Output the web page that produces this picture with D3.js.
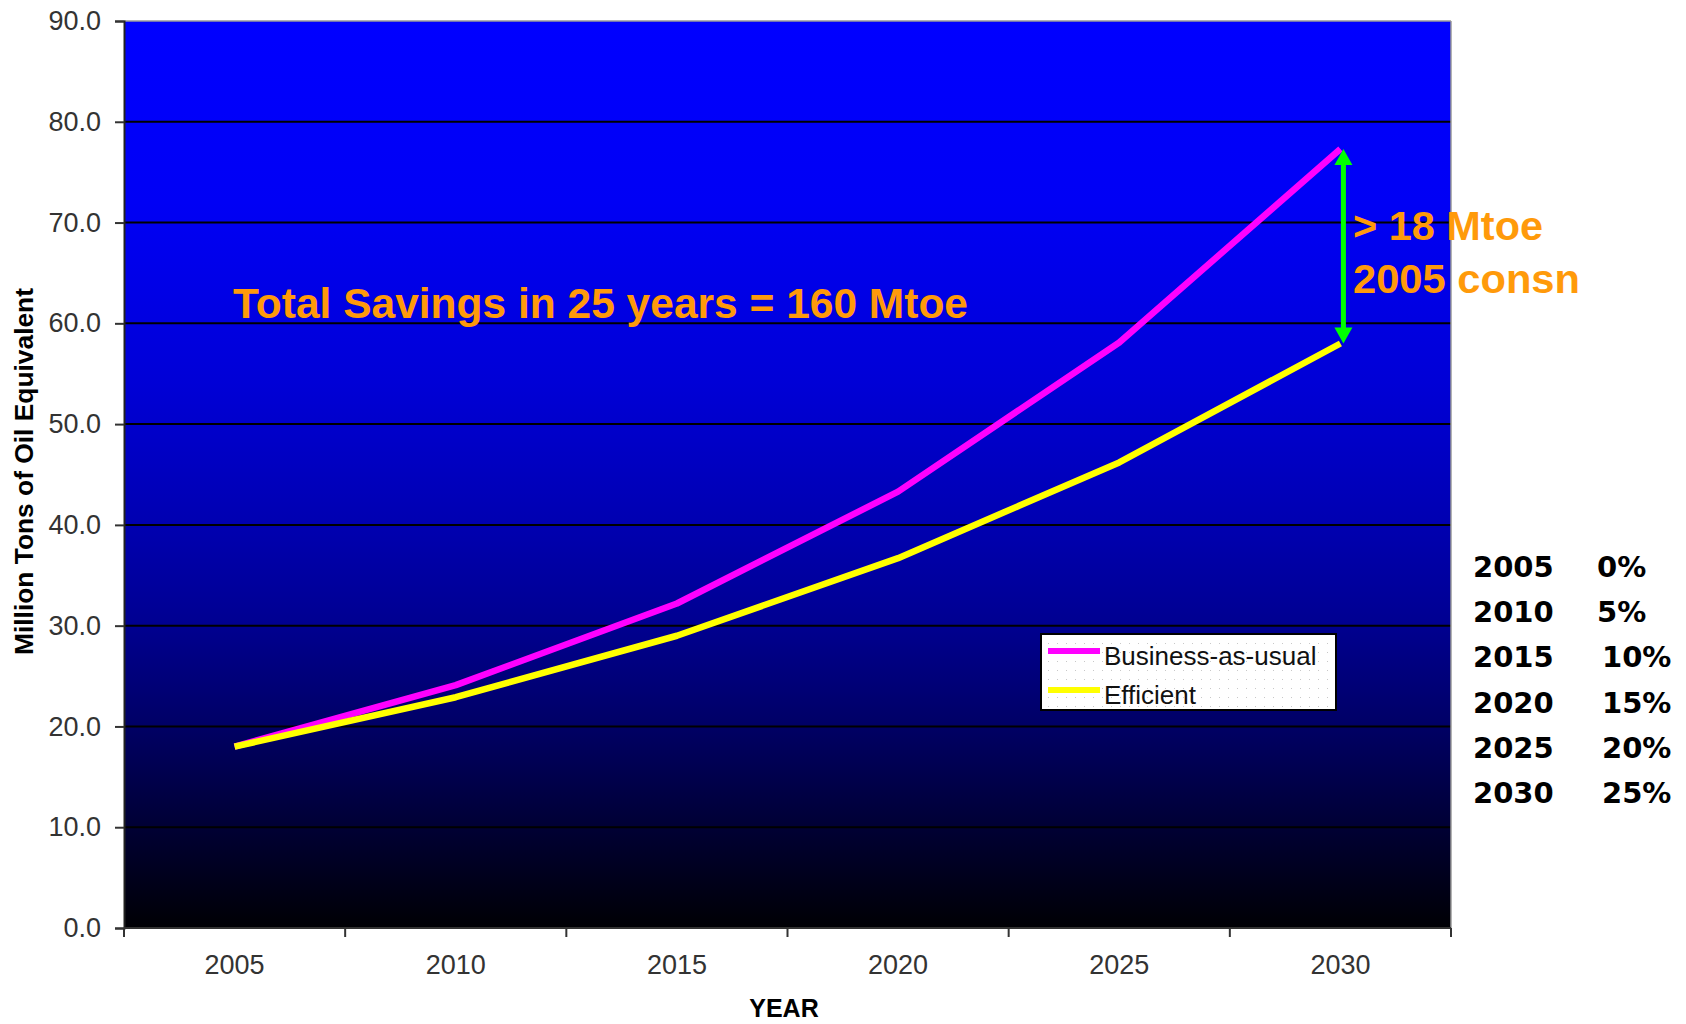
<!DOCTYPE html>
<html>
<head>
<meta charset="utf-8">
<script src="https://cdn.jsdelivr.net/npm/d3@7"></script>
<style>
  html, body { margin: 0; padding: 0; background: #fff; }
  svg { display: block; }
</style>
</head>
<body>
<svg id="chart" width="1686" height="1024"></svg>
<script>
// Energy demand projections, million tons of oil equivalent
const years = ["2005", "2010", "2015", "2020", "2025", "2030"];
const businessAsUsual = [18.0, 24.1, 32.2, 43.3, 58.1, 77.3];
const efficient = [18.0, 22.9, 29.0, 36.7, 46.2, 58.0];
const yTicks = [0, 10, 20, 30, 40, 50, 60, 70, 80, 90];
const seriesNames = ["Business-as-usual", "Efficient"];
const savingsYears = ["2005", "2010", "2015", "2020", "2025", "2030"];
const savingsPct = ["0%", "5%", "10%", "15%", "20%", "25%"];

const svg = d3.select("#chart");
const plot = { left: 124, right: 1451, top: 21, bottom: 928 };

const x = d3.scaleBand().domain(years).range([plot.left, plot.right]).padding(0);
const y = d3.scaleLinear().domain([0, 90]).range([plot.bottom, plot.top]);
const cx = d => x(d) + x.bandwidth() / 2;

// Plot-area gradient: bright blue fading to black
const defs = svg.append("defs");
const grad = defs.append("linearGradient")
  .attr("id", "bg").attr("x1", 0).attr("y1", 0).attr("x2", 0).attr("y2", 1);
[[0, 255], [0.2, 245], [0.4, 214], [0.55, 178], [0.66, 146], [0.77, 104], [0.88, 56], [1, 4]]
  .forEach(([o, b]) => grad.append("stop").attr("offset", o).attr("stop-color", `rgb(0,0,${b})`));

const dots = defs.append("pattern").attr("id", "dots")
  .attr("width", 9).attr("height", 9).attr("patternUnits", "userSpaceOnUse");
dots.append("rect").attr("width", 9).attr("height", 9).attr("fill", "#fff");
dots.append("rect").attr("x", 4).attr("y", 4).attr("width", 1).attr("height", 1).attr("fill", "#c8c8c8");

svg.append("rect")
  .attr("x", plot.left).attr("y", plot.top)
  .attr("width", plot.right - plot.left).attr("height", plot.bottom - plot.top)
  .attr("fill", "url(#bg)");

// Horizontal gridlines
svg.append("g").selectAll("line")
  .data(yTicks.filter(t => t > 0 && t < 90))
  .join("line")
  .attr("x1", plot.left).attr("x2", plot.right)
  .attr("y1", d => y(d)).attr("y2", d => y(d))
  .attr("stroke", "#000").attr("stroke-width", 2);

// Frame: top and right edges light, axes dark
svg.append("line").attr("x1", plot.left).attr("x2", plot.right)
  .attr("y1", plot.top).attr("y2", plot.top).attr("stroke", "#9a9a9a").attr("stroke-width", 1.5);
svg.append("line").attr("x1", plot.right).attr("x2", plot.right)
  .attr("y1", plot.top).attr("y2", plot.bottom).attr("stroke", "#9a9a9a").attr("stroke-width", 1.5);

// Y axis
const yAxis = d3.axisLeft(y).tickValues(yTicks).tickFormat(d3.format(".1f")).tickSize(9).tickPadding(14);
const gy = svg.append("g").attr("transform", `translate(${plot.left},0)`).call(yAxis);
gy.select(".domain").attr("stroke", "#222").attr("stroke-width", 2);
gy.selectAll(".tick line").attr("stroke", "#333").attr("stroke-width", 2);
gy.selectAll(".tick text")
  .attr("font-family", "'Liberation Sans', Arial, sans-serif")
  .attr("font-size", 27).attr("fill", "#333");

// X axis: labels centred in categories, ticks on category boundaries
const xAxis = d3.axisBottom(x).tickSize(0).tickPadding(27);
const gx = svg.append("g").attr("transform", `translate(0,${plot.bottom})`).call(xAxis);
gx.select(".domain").remove();
gx.selectAll(".tick text")
  .attr("font-family", "'Liberation Sans', Arial, sans-serif")
  .attr("font-size", 27).attr("fill", "#333");
svg.append("line").attr("x1", plot.left).attr("x2", plot.right)
  .attr("y1", plot.bottom).attr("y2", plot.bottom).attr("stroke", "#333").attr("stroke-width", 2);
const boundaries = years.map(d => x(d)).concat([x(years[years.length - 1]) + x.bandwidth()]);
svg.append("g").selectAll("line").data(boundaries).join("line")
  .attr("x1", d => d).attr("x2", d => d)
  .attr("y1", plot.bottom).attr("y2", plot.bottom + 9)
  .attr("stroke", "#333").attr("stroke-width", 2);

// Axis titles
svg.append("text")
  .attr("transform", `translate(33,${(288 + 655) / 2}) rotate(-90)`)
  .attr("text-anchor", "middle")
  .attr("font-family", "'Liberation Sans', Arial, sans-serif")
  .attr("font-weight", "bold").attr("font-size", 26)
  .attr("textLength", 367).attr("lengthAdjust", "spacingAndGlyphs")
  .text("Million Tons of Oil Equivalent");
svg.append("text")
  .attr("x", 784).attr("y", 1017).attr("text-anchor", "middle")
  .attr("font-family", "'Liberation Sans', Arial, sans-serif")
  .attr("font-weight", "bold").attr("font-size", 25)
  .text("YEAR");

// Series lines
const line = d3.line().x((d, i) => cx(years[i])).y(d => y(d));
const series = [
  { name: seriesNames[0], values: businessAsUsual, color: "#ff00ff" },
  { name: seriesNames[1], values: efficient, color: "#ffff00" }
];
svg.append("g").selectAll("path").data(series).join("path")
  .attr("d", d => line(d.values))
  .attr("fill", "none").attr("stroke", d => d.color)
  .attr("stroke-width", 6.5).attr("stroke-linejoin", "round");

// Double arrow showing the 2030 gap between scenarios
const last = years.length - 1;
const ax = cx(years[last]) + 3;
const yTop = y(businessAsUsual[last]);
const yBot = y(efficient[last]);
const headL = 16, headW = 9;
const arrow = svg.append("g").attr("fill", "#00ff00").attr("stroke", "none");
arrow.append("rect").attr("x", ax - 2.5).attr("y", yTop + headL - 2)
  .attr("width", 5).attr("height", (yBot - yTop) - 2 * headL + 4);
arrow.append("path").attr("d", `M${ax},${yTop} L${ax + headW},${yTop + headL} L${ax - headW},${yTop + headL} Z`);
arrow.append("path").attr("d", `M${ax},${yBot} L${ax + headW},${yBot - headL} L${ax - headW},${yBot - headL} Z`);

// Annotations
const orange = "#ff9a0a";
const boldArial = "'Liberation Sans', Arial, sans-serif";
svg.append("text")
  .attr("x", 233).attr("y", 318)
  .attr("font-family", boldArial).attr("font-weight", "bold").attr("font-size", 42)
  .attr("fill", orange)
  .attr("textLength", 735).attr("lengthAdjust", "spacingAndGlyphs")
  .text("Total Savings in 25 years = 160 Mtoe");
svg.append("text")
  .attr("x", 1353).attr("y", 240)
  .attr("font-family", boldArial).attr("font-weight", "bold").attr("font-size", 40)
  .attr("fill", orange)
  .attr("textLength", 190).attr("lengthAdjust", "spacingAndGlyphs")
  .text("> 18 Mtoe");
svg.append("text")
  .attr("x", 1353).attr("y", 293)
  .attr("font-family", boldArial).attr("font-weight", "bold").attr("font-size", 40)
  .attr("fill", orange)
  .attr("textLength", 227).attr("lengthAdjust", "spacingAndGlyphs")
  .text("2005 consn");

// Legend
const lg = svg.append("g");
lg.append("rect").attr("x", 1041).attr("y", 634).attr("width", 295).attr("height", 76)
  .attr("fill", "url(#dots)").attr("stroke", "#000").attr("stroke-width", 2);
const legendRows = [651, 690];
series.forEach((s, i) => {
  lg.append("line")
    .attr("x1", 1048).attr("x2", 1100)
    .attr("y1", legendRows[i]).attr("y2", legendRows[i])
    .attr("stroke", s.color).attr("stroke-width", 6);
  lg.append("text")
    .attr("x", 1104).attr("y", legendRows[i] + 14)
    .attr("font-family", boldArial).attr("font-size", 26).attr("fill", "#111")
    .text(s.name);
});

// Savings target table
const tbl = svg.append("g")
  .attr("font-family", "'DejaVu Sans', sans-serif")
  .attr("font-weight", "bold").attr("font-size", 29).attr("fill", "#000");
savingsYears.forEach((yr, i) => {
  const by = 577 + i * 45.2;
  tbl.append("text").attr("x", 1473).attr("y", by).text(yr);
  tbl.append("text").attr("x", savingsPct[i].length > 2 ? 1602 : 1597).attr("y", by).text(savingsPct[i]);
});
</script>
</body>
</html>
